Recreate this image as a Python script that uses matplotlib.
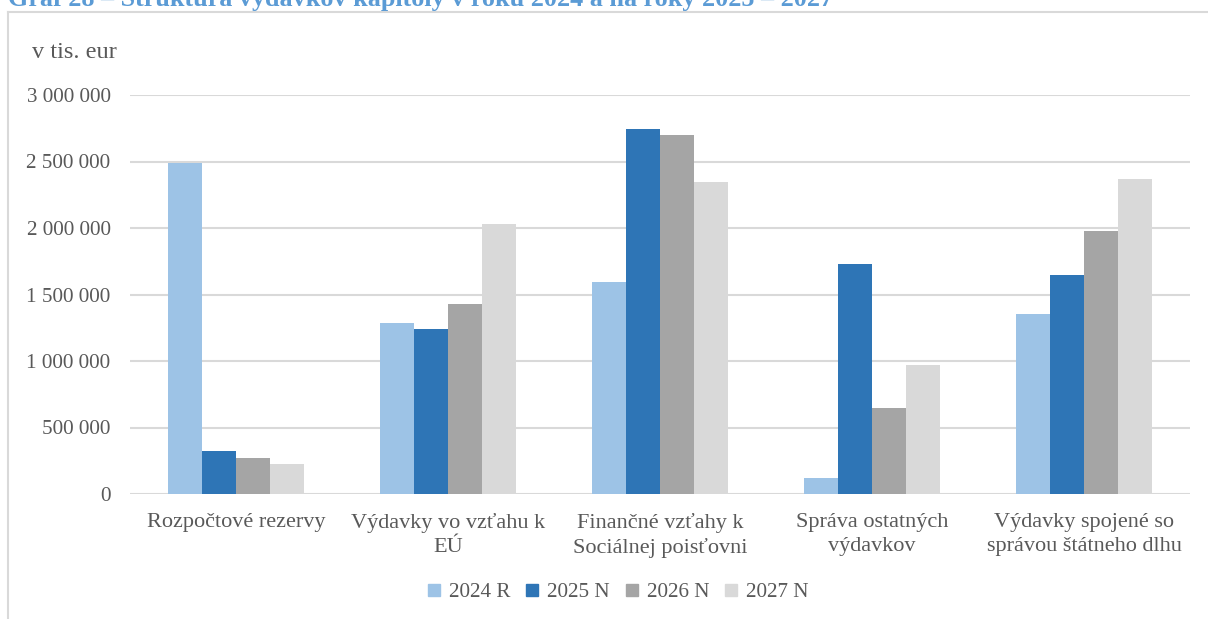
import numpy as np
import matplotlib
matplotlib.use("Agg")
import matplotlib.pyplot as plt
from matplotlib.lines import Line2D
from matplotlib.ticker import FuncFormatter

categories = [
    "Rozpočtové rezervy",
    "Výdavky vo vzťahu k\nEÚ",
    "Finančné vzťahy k\nSociálnej poisťovni",
    "Správa ostatných\nvýdavkov",
    "Výdavky spojené so\nsprávou štátneho dlhu",
]
series = ["2024 R", "2025 N", "2026 N", "2027 N"]
v2024 = [2490000, 1284000, 1594000, 118000, 1351000]
v2025 = [325000, 1238000, 2744000, 1727000, 1644000]
v2026 = [271000, 1429000, 2697000, 647000, 1978000]
v2027 = [228000, 2028000, 2346000, 972000, 2366000]
colors = ["#9DC3E6", "#2E75B6", "#A5A5A5", "#D9D9D9"]

TXT = "#595959"
plt.rcParams["font.family"] = ["Liberation Serif", "DejaVu Serif"]

W, H = 1208, 619
fig = plt.figure(figsize=(W / 100, H / 100), dpi=100)
ax = fig.add_axes([130 / W, 1 - 494 / H, 1060 / W, 399 / H])

x = np.arange(len(categories))
bw = 0.161
for k, (vals, c, lab) in enumerate(zip([v2024, v2025, v2026, v2027], colors, series)):
    ax.bar(x + (k - 1.5) * bw, vals, width=bw, color=c, label=lab, zorder=3)

ax.set_xlim(-0.5, len(categories) - 0.5)
ax.set_ylim(0, 3000000)
ax.set_yticks(np.arange(0, 3000001, 500000))
ax.yaxis.set_major_formatter(FuncFormatter(lambda v, p: f"{int(v):,}".replace(",", " ")))
ax.grid(axis="y", color="#D9D9D9", lw=1.5, zorder=0)
for s in ax.spines.values():
    s.set_visible(False)
ax.tick_params(axis="y", length=0, pad=14, labelsize=15.2, labelcolor=TXT)
ax.tick_params(axis="x", length=0, pad=14, labelsize=16, labelcolor=TXT)
ax.set_xticks(x)
ax.set_xticklabels(categories, linespacing=1.3)

fig.text(32 / W, 1 - 52 / H, "v tis. eur", fontsize=17.5, color=TXT, va="center")

handles = [Line2D([], [], marker="s", ls="", color=c, markersize=9) for c in colors]
fig.legend(handles, series, loc="center", bbox_to_anchor=(617 / W, 1 - 592 / H),
           ncol=4, frameon=False, fontsize=15.2, labelcolor=TXT,
           handletextpad=0.3, columnspacing=0.65, handlelength=0.8)

# outer frame of the chart box
fig.add_artist(Line2D([8 / W, 8 / W], [0, 1 - 12 / H], color="#D9D9D9", lw=1.5))
fig.add_artist(Line2D([8 / W, 1], [1 - 12 / H, 1 - 12 / H], color="#D9D9D9", lw=1.5))

# title, cut off at the top edge like in the source
fig.text(8 / W, 1 - 6 / H, "Graf 28 – Štruktúra výdavkov kapitoly v roku 2024 a na roky 2025 – 2027",
         fontsize=18.8, fontweight="bold", color="#5B9BD5", va="baseline")

fig.savefig("out.png", dpi=100)
